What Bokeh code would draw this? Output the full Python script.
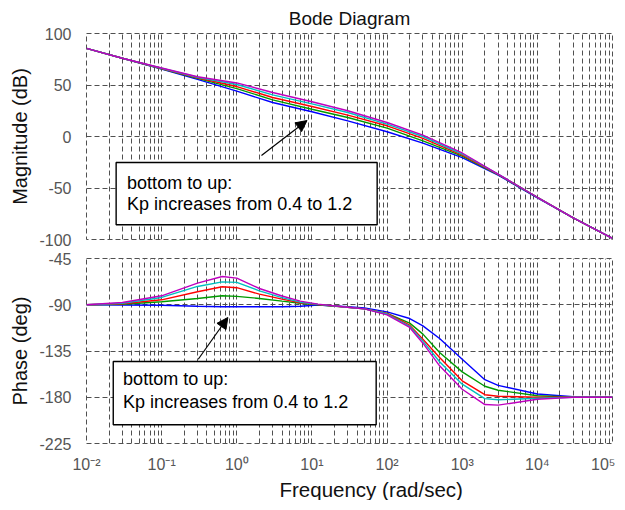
from bokeh.plotting import figure
from bokeh.models import (Range1d, FixedTicker, CustomJSTickFormatter, BoxAnnotation,
                          Label, Arrow, NormalHead, Title)
from bokeh.layouts import column
from bokeh.embed import file_html
from bokeh.resources import INLINE

# ---------------- data ----------------
KP = ["0.4", "0.6", "0.8", "1.0", "1.2"]
COLORS = ["#0000ff", "#009a00", "#ff0000", "#00bfbf", "#bf00bf"]

FREQ_MAG = [0.01, 0.03, 0.1, 0.3, 1, 3, 10, 30, 100, 300, 1000, 3000, 1e4, 3e4, 1e5]
MAG_04 = [85.5, 76.0, 65.5, 55.5, 44.0, 33.0, 24.0, 15.2, 4.6, -6.5, -20.5, -37.5, -59.5, -79.0, -99.0]
MAG_06 = [85.5, 76.0, 65.8, 56.5, 46.5, 35.6, 26.5, 18.4, 8.1, -4.2, -19.0, -37.0, -59.0, -79.0, -99.0]
MAG_08 = [85.5, 76.0, 66.0, 57.0, 48.5, 37.9, 29.1, 20.7, 10.4, -1.9, -18.0, -36.7, -59.0, -79.0, -99.0]
MAG_10 = [85.5, 76.0, 66.3, 57.5, 50.5, 40.4, 31.7, 23.3, 12.0, 0.0, -17.0, -36.5, -59.0, -79.0, -99.0]
MAG_12 = [85.5, 76.0, 66.5, 58.0, 52.0, 42.7, 33.7, 25.0, 13.6, 1.3, -16.0, -36.5, -59.0, -79.0, -99.0]

FREQ_PH = [0.01, 0.03, 0.1, 0.3, 0.64, 1, 2, 4, 7, 12, 30, 50, 100, 200, 300, 500,
           1000, 2000, 3000, 1e4, 3e4, 1e5]
PH_04 = [-90, -90.3, -90.5, -91.5, -92, -92, -92, -92, -91.5, -90.3, -92, -93, -96.9,
         -103.4, -110.5, -122.8, -143, -162.9, -168.4, -176.8, -179.5, -180]
PH_06 = [-90, -89.5, -87.1, -83.9, -81.3, -81.9, -83.9, -86.5, -88.5, -90, -92.5, -94, -98.5,
         -107.9, -118.6, -136.4, -155.3, -169.3, -173.2, -178.5, -180, -180]
PH_08 = [-90, -89, -85.2, -77.4, -72.5, -73.4, -79.7, -84.5, -88, -89.8, -92.5, -94, -98.5,
         -109.9, -123.5, -141.3, -164, -177.5, -179, -180, -180, -180]
PH_10 = [-90, -88.5, -82.9, -72.2, -67.7, -68.2, -76.5, -83, -87.5, -89.6, -92.5, -94, -99,
         -111, -125.4, -145.5, -167.3, -181.3, -182.5, -181, -180, -180]
PH_12 = [-90, -87.8, -81.3, -69, -62.5, -64.1, -74.2, -81.5, -86.5, -89.4, -92.5, -94, -99.8,
         -112.1, -127.4, -149.4, -172.2, -187.1, -187.7, -182, -180, -180]

MAGS = [MAG_04, MAG_06, MAG_08, MAG_10, MAG_12]
PHASES = [PH_04, PH_06, PH_08, PH_10, PH_12]

X_TICKS = [1e-2, 1e-1, 1e0, 1e1, 1e2, 1e3, 1e4, 1e5]
X_TICK_LABELS = ["10\u207b\u00b2", "10\u207b\u00b9", "10\u2070", "10\u00b9",
                 "10\u00b2", "10\u00b3", "10\u2074", "10\u2075"]
MAG_TICKS = [-100, -50, 0, 50, 100]
PH_TICKS = [-225, -180, -135, -90, -45]

NOTE_1 = "bottom to up:"
NOTE_2 = "Kp increases from 0.4 to 1.2"

FONT = "Liberation Sans"
GRID = "#505050"
X_MINOR = [k * 10.0 ** e for e in range(-2, 5) for k in range(2, 10)]

Y_FORMAT = CustomJSTickFormatter(code="return tick.toFixed(0);")


def style(p, yticks):
    p.xaxis.ticker = FixedTicker(ticks=X_TICKS, minor_ticks=X_MINOR)
    p.xgrid.ticker = FixedTicker(ticks=X_TICKS, minor_ticks=X_MINOR)
    p.yaxis.ticker = FixedTicker(ticks=yticks)
    p.yaxis.formatter = Y_FORMAT
    for g in (p.xgrid, p.ygrid):
        g.grid_line_color = GRID
        g.grid_line_dash = "5 3"
        g.grid_line_width = 1
    p.xgrid.minor_grid_line_color = GRID
    p.xgrid.minor_grid_line_dash = "5 3"
    p.xgrid.minor_grid_line_width = 1
    p.outline_line_color = GRID
    p.outline_line_dash = "5 3"
    p.outline_line_width = 1
    for ax in (p.xaxis, p.yaxis):
        ax.axis_line_color = None
        ax.major_tick_line_color = None
        ax.minor_tick_line_color = None
        ax.major_label_text_font = FONT
        ax.major_label_text_font_size = "16px"
        ax.major_label_text_color = "#555555"
    p.yaxis.major_label_standoff = 9
    p.background_fill_color = "white"
    p.border_fill_color = "white"


def side_title(p, text):
    p.add_layout(Title(text=text, align="center", offset=20, standoff=12,
                       text_font=FONT, text_font_size="20px", text_font_style="normal",
                       text_color="#111111"), "left")


def note(p, box, t1, t2, arrow):
    p.add_layout(BoxAnnotation(left=box[0], right=box[1], bottom=box[2], top=box[3],
                               fill_color="white", fill_alpha=1.0,
                               line_color="black", line_alpha=1.0, line_width=1.4))
    for (txt, y) in ((NOTE_1, t2[0]), (NOTE_2, t2[1])):
        p.add_layout(Label(x=t1, y=y, text=txt, text_font=FONT, text_font_size="18px",
                           text_color="black", text_baseline="middle"))
    p.add_layout(Arrow(end=NormalHead(size=11, fill_color="black", line_color="black"),
                       x_start=arrow[0], y_start=arrow[1], x_end=arrow[2], y_end=arrow[3],
                       line_color="black", line_width=1.2))


# ---------------- magnitude ----------------
p1 = figure(frame_width=526, frame_height=206, x_axis_type="log",
            x_range=Range1d(1e-2, 1e5), y_range=Range1d(-100, 100),
            output_backend="svg", toolbar_location=None,
            min_border_left=77, min_border_right=3, min_border_top=32, min_border_bottom=9,
            title="Bode Diagram")
p1.title.align = "center"
p1.title.offset = 14
p1.title.text_font = FONT
p1.title.text_font_size = "19px"
p1.title.text_font_style = "normal"
p1.title.text_color = "#111111"
p1.title.standoff = 10
style(p1, MAG_TICKS)
p1.xaxis.visible = False
side_title(p1, "Magnitude (dB)")
for mag, c in zip(MAGS, COLORS):
    p1.line(FREQ_MAG, mag, line_color=c, line_width=1.4)
note(p1, (0.0248, 73.8, -85.7, -25.2), 0.0347, (-44.7, -66.0), (2.13, -18.4, 8.6, 15.5))

# ---------------- phase ----------------
p2 = figure(frame_width=526, frame_height=185, x_axis_type="log",
            x_range=Range1d(1e-2, 1e5), y_range=Range1d(-225, -45),
            output_backend="svg", toolbar_location=None,
            min_border_left=77, min_border_right=3, min_border_top=10, min_border_bottom=40)
style(p2, PH_TICKS)
p2.xaxis.formatter = CustomJSTickFormatter(args=dict(labels=X_TICK_LABELS), code="""
const i = Math.round(Math.log10(tick)) + 2;
return (i >= 0 && i < labels.length) ? labels[i] : "";
""")
p2.xaxis.major_label_standoff = 6
side_title(p2, "Phase (deg)")
p2.add_layout(Title(text="Frequency  (rad/sec)", align="left", offset=193, standoff=0,
                    text_font=FONT, text_font_size="20.5px", text_font_style="normal",
                    text_color="#111111"), "below")
for ph, c in zip(PHASES, COLORS):
    p2.line(FREQ_PH, ph, line_color=c, line_width=1.4)
note(p2, (0.0227, 71.6, -206.8, -145.2), 0.0307, (-162.4, -185.1), (0.307, -143.0, 0.76, -102.4))

layout = column(p1, p2)
open("out.html", "w").write(file_html(layout, INLINE))
